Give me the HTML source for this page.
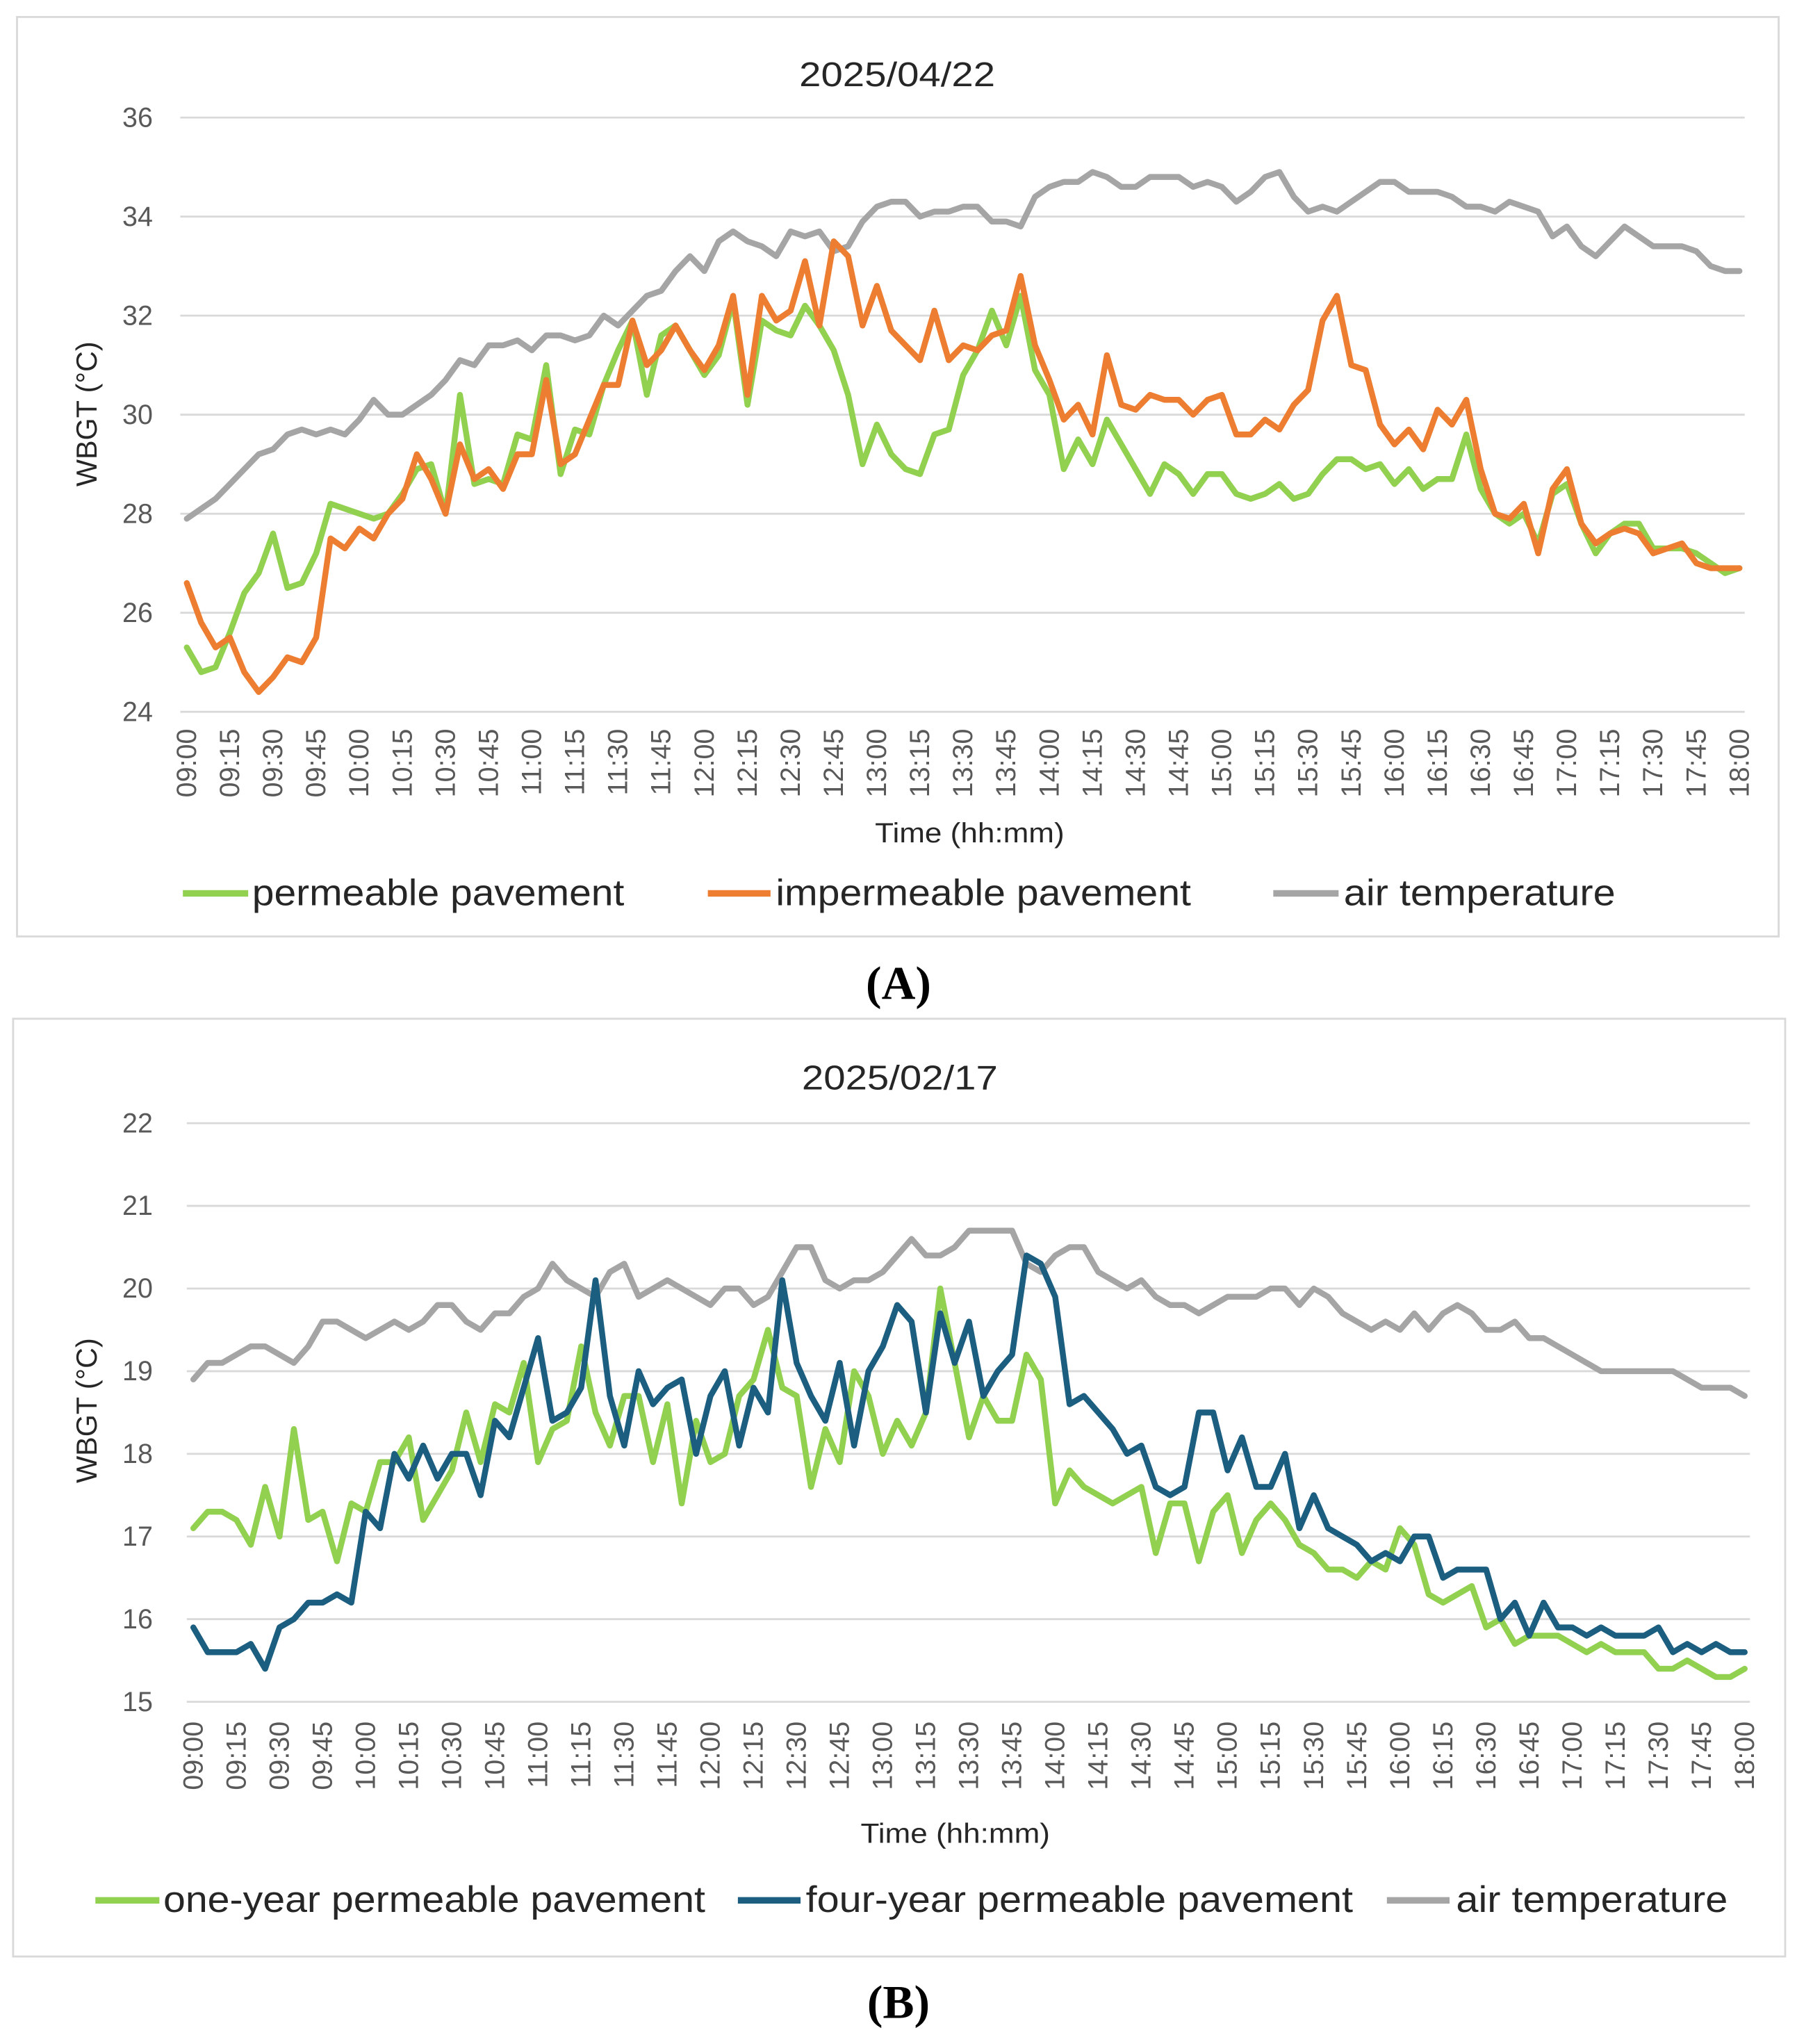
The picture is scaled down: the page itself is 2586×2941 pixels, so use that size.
<!DOCTYPE html>
<html><head><meta charset="utf-8"><style>
html,body{margin:0;padding:0;background:#fff;}
svg{display:block;font-family:"Liberation Sans","DejaVu Sans",sans-serif;}
</style></head><body>
<svg id="fig" width="2586" height="2941" viewBox="0 0 1376 1565" xmlns="http://www.w3.org/2000/svg">
<rect x="0" y="0" width="1376" height="1565" fill="#fff"/>
<g id="chartA">
<rect x="13" y="13" width="1349" height="704" fill="#fff" stroke="#d9d9d9" stroke-width="1.5"/>
<text x="612" y="66" font-size="26" textLength="150" lengthAdjust="spacingAndGlyphs" fill="#262626">2025/04/22</text>
<text transform="translate(74,317) rotate(-90)" font-size="22" text-anchor="middle" fill="#262626">WBGT (°C)</text>
<text x="670" y="645" font-size="21" textLength="145" lengthAdjust="spacingAndGlyphs" fill="#262626">Time (hh:mm)</text>
<g>
<g><line x1="140" y1="684" x2="190" y2="684" stroke="#92d050" stroke-width="5"/><text x="193" y="693" font-size="28" textLength="285" lengthAdjust="spacingAndGlyphs" fill="#262626">permeable pavement</text></g>
<g><line x1="542" y1="684" x2="590" y2="684" stroke="#ed7d31" stroke-width="5"/><text x="594" y="693" font-size="28" textLength="318" lengthAdjust="spacingAndGlyphs" fill="#262626">impermeable pavement</text></g>
<g><line x1="975" y1="684" x2="1025" y2="684" stroke="#a5a5a5" stroke-width="5"/><text x="1029" y="693" font-size="28" textLength="208" lengthAdjust="spacingAndGlyphs" fill="#262626">air temperature</text></g>
</g>
</g>
<text x="688" y="765" font-size="36" font-weight="bold" text-anchor="middle" font-family="Liberation Serif, serif">(A)</text>
<g id="chartB">
<rect x="10" y="780" width="1357" height="718" fill="#fff" stroke="#d9d9d9" stroke-width="1.5"/>
<text x="614" y="834" font-size="26" textLength="150" lengthAdjust="spacingAndGlyphs" fill="#262626">2025/02/17</text>
<text transform="translate(74,1080) rotate(-90)" font-size="22" text-anchor="middle" fill="#262626">WBGT (°C)</text>
<text x="659" y="1411" font-size="21" textLength="145" lengthAdjust="spacingAndGlyphs" fill="#262626">Time (hh:mm)</text>
<g>
<g><line x1="73" y1="1455" x2="122" y2="1455" stroke="#92d050" stroke-width="5"/><text x="125" y="1464" font-size="28" textLength="415" lengthAdjust="spacingAndGlyphs" fill="#262626">one-year permeable pavement</text></g>
<g><line x1="565" y1="1455" x2="613" y2="1455" stroke="#1b5e80" stroke-width="5"/><text x="617" y="1464" font-size="28" textLength="419" lengthAdjust="spacingAndGlyphs" fill="#262626">four-year permeable pavement</text></g>
<g><line x1="1062" y1="1455" x2="1110" y2="1455" stroke="#a5a5a5" stroke-width="5"/><text x="1115" y="1464" font-size="28" textLength="208" lengthAdjust="spacingAndGlyphs" fill="#262626">air temperature</text></g>
</g>
</g>
<text x="688" y="1545" font-size="36" font-weight="bold" text-anchor="middle" font-family="Liberation Serif, serif">(B)</text>
</svg>
<script>
const aPermeable=[25.3,24.8,24.9,25.6,26.4,26.8,27.6,26.5,26.6,27.2,28.2,28.1,28.0,27.9,28.0,28.4,28.9,29.0,28.0,30.4,28.6,28.7,28.6,29.6,29.5,31.0,28.8,29.7,29.6,30.6,31.3,31.9,30.4,31.6,31.8,31.3,30.8,31.2,32.3,30.2,31.9,31.7,31.6,32.2,31.8,31.3,30.4,29.0,29.8,29.2,28.9,28.8,29.6,29.7,30.8,31.3,32.1,31.4,32.4,30.9,30.4,28.9,29.5,29.0,29.9,29.4,28.9,28.4,29.0,28.8,28.4,28.8,28.8,28.4,28.3,28.4,28.6,28.3,28.4,28.8,29.1,29.1,28.9,29.0,28.6,28.9,28.5,28.7,28.7,29.6,28.5,28.0,27.8,28.0,27.4,28.4,28.6,27.8,27.2,27.6,27.8,27.8,27.3,27.3,27.3,27.2,27.0,26.8,26.9];
const aImpermeable=[26.6,25.8,25.3,25.5,24.8,24.4,24.7,25.1,25.0,25.5,27.5,27.3,27.7,27.5,28.0,28.3,29.2,28.7,28.0,29.4,28.7,28.9,28.5,29.2,29.2,30.7,29.0,29.2,29.9,30.6,30.6,31.9,31.0,31.3,31.8,31.3,30.9,31.4,32.4,30.4,32.4,31.9,32.1,33.1,31.8,33.5,33.2,31.8,32.6,31.7,31.4,31.1,32.1,31.1,31.4,31.3,31.6,31.7,32.8,31.4,30.7,29.9,30.2,29.6,31.2,30.2,30.1,30.4,30.3,30.3,30.0,30.3,30.4,29.6,29.6,29.9,29.7,30.2,30.5,31.9,32.4,31.0,30.9,29.8,29.4,29.7,29.3,30.1,29.8,30.3,28.9,28.0,27.9,28.2,27.2,28.5,28.9,27.8,27.4,27.6,27.7,27.6,27.2,27.3,27.4,27.0,26.9,26.9,26.9];
const aAir=[27.9,28.1,28.3,28.6,28.9,29.2,29.3,29.6,29.7,29.6,29.7,29.6,29.9,30.3,30.0,30.0,30.2,30.4,30.7,31.1,31.0,31.4,31.4,31.5,31.3,31.6,31.6,31.5,31.6,32.0,31.8,32.1,32.4,32.5,32.9,33.2,32.9,33.5,33.7,33.5,33.4,33.2,33.7,33.6,33.7,33.3,33.4,33.9,34.2,34.3,34.3,34.0,34.1,34.1,34.2,34.2,33.9,33.9,33.8,34.4,34.6,34.7,34.7,34.9,34.8,34.6,34.6,34.8,34.8,34.8,34.6,34.7,34.6,34.3,34.5,34.8,34.9,34.4,34.1,34.2,34.1,34.3,34.5,34.7,34.7,34.5,34.5,34.5,34.4,34.2,34.2,34.1,34.3,34.2,34.1,33.6,33.8,33.4,33.2,33.5,33.8,33.6,33.4,33.4,33.4,33.3,33.0,32.9,32.9];
const aTicks=[24,26,28,30,32,34,36];
const bOneYear=[17.1,17.3,17.3,17.2,16.9,17.6,17.0,18.3,17.2,17.3,16.7,17.4,17.3,17.9,17.9,18.2,17.2,17.5,17.8,18.5,17.9,18.6,18.5,19.1,17.9,18.3,18.4,19.3,18.5,18.1,18.7,18.7,17.9,18.6,17.4,18.4,17.9,18.0,18.7,18.9,19.5,18.8,18.7,17.6,18.3,17.9,19.0,18.7,18.0,18.4,18.1,18.5,20.0,19.1,18.2,18.7,18.4,18.4,19.2,18.9,17.4,17.8,17.6,17.5,17.4,17.5,17.6,16.8,17.4,17.4,16.7,17.3,17.5,16.8,17.2,17.4,17.2,16.9,16.8,16.6,16.6,16.5,16.7,16.6,17.1,16.9,16.3,16.2,16.3,16.4,15.9,16.0,15.7,15.8,15.8,15.8,15.7,15.6,15.7,15.6,15.6,15.6,15.4,15.4,15.5,15.4,15.3,15.3,15.4];
const bFourYear=[15.9,15.6,15.6,15.6,15.7,15.4,15.9,16.0,16.2,16.2,16.3,16.2,17.3,17.1,18.0,17.7,18.1,17.7,18.0,18.0,17.5,18.4,18.2,18.8,19.4,18.4,18.5,18.8,20.1,18.7,18.1,19.0,18.6,18.8,18.9,18.0,18.7,19.0,18.1,18.8,18.5,20.1,19.1,18.7,18.4,19.1,18.1,19.0,19.3,19.8,19.6,18.5,19.7,19.1,19.6,18.7,19.0,19.2,20.4,20.3,19.9,18.6,18.7,18.5,18.3,18.0,18.1,17.6,17.5,17.6,18.5,18.5,17.8,18.2,17.6,17.6,18.0,17.1,17.5,17.1,17.0,16.9,16.7,16.8,16.7,17.0,17.0,16.5,16.6,16.6,16.6,16.0,16.2,15.8,16.2,15.9,15.9,15.8,15.9,15.8,15.8,15.8,15.9,15.6,15.7,15.6,15.7,15.6,15.6];
const bAir=[18.9,19.1,19.1,19.2,19.3,19.3,19.2,19.1,19.3,19.6,19.6,19.5,19.4,19.5,19.6,19.5,19.6,19.8,19.8,19.6,19.5,19.7,19.7,19.9,20.0,20.3,20.1,20.0,19.9,20.2,20.3,19.9,20.0,20.1,20.0,19.9,19.8,20.0,20.0,19.8,19.9,20.2,20.5,20.5,20.1,20.0,20.1,20.1,20.2,20.4,20.6,20.4,20.4,20.5,20.7,20.7,20.7,20.7,20.3,20.2,20.4,20.5,20.5,20.2,20.1,20.0,20.1,19.9,19.8,19.8,19.7,19.8,19.9,19.9,19.9,20.0,20.0,19.8,20.0,19.9,19.7,19.6,19.5,19.6,19.5,19.7,19.5,19.7,19.8,19.7,19.5,19.5,19.6,19.4,19.4,19.3,19.2,19.1,19.0,19.0,19.0,19.0,19.0,19.0,18.9,18.8,18.8,18.8,18.7];
const bTicks=[15,16,17,18,19,20,21,22];
const startMinutes=540, stepMinutes=5, labelEvery=3;

const NS='http://www.w3.org/2000/svg';
function mk(tag,attrs,parent){const e=document.createElementNS(NS,tag);for(const k in attrs)e.setAttribute(k,attrs[k]);parent.appendChild(e);return e;}
function fmt(m){const h=Math.floor(m/60),mm=m%60;return String(h).padStart(2,'0')+':'+String(mm).padStart(2,'0');}

function drawChart(g,cfg){
  const n=cfg.series[0].values.length;
  const xs=i=>cfg.x0+(cfg.x1-cfg.x0)*i/(n-1);
  const ys=v=>cfg.yBottom-(v-cfg.ticks[0])/(cfg.ticks[cfg.ticks.length-1]-cfg.ticks[0])*(cfg.yBottom-cfg.yTop);
  cfg.ticks.forEach(t=>{
    const ln=mk('line',{x1:cfg.gx0,x2:cfg.gx1,y1:ys(t),y2:ys(t),stroke:'#d9d9d9','stroke-width':1.5},g);
    
    
    const tx=mk('text',{x:117,y:ys(t)+7,'font-size':21,'text-anchor':'end',fill:'#595959'},g);
    tx.textContent=String(t);
    
    
  });
  for(let i=0;i<n;i+=labelEvery){
    const tx=mk('text',{transform:'translate('+(xs(i)+7)+','+cfg.labelTop+') rotate(-90)','font-size':21,'text-anchor':'end',fill:'#595959'},g);
    tx.textContent=fmt(startMinutes+i*stepMinutes);
    
    
  }
  cfg.series.forEach(s=>{
    const pts=s.values.map((v,i)=>xs(i).toFixed(2)+','+ys(v).toFixed(2)).join(' ');
    const pl=mk('polyline',{points:pts,fill:'none',stroke:s.color,'stroke-width':4.5,'stroke-linejoin':'round','stroke-linecap':'round'},g);
    
    
  });
}
drawChart(document.getElementById('chartA'),{x0:143,x1:1332,gx0:138,gx1:1336,yTop:90,yBottom:545,labelTop:558,ticks:aTicks,
  series:[{values:aAir,color:'#a5a5a5',name:'air-temperature-line-a'},{values:aPermeable,color:'#92d050',name:'permeable-pavement-line'},{values:aImpermeable,color:'#ed7d31',name:'impermeable-pavement-line'}]});
drawChart(document.getElementById('chartB'),{x0:148,x1:1336,gx0:143,gx1:1340,yTop:860,yBottom:1303,labelTop:1318,ticks:bTicks,
  series:[{values:bAir,color:'#a5a5a5',name:'air-temperature-line-b'},{values:bOneYear,color:'#92d050',name:'one-year-pavement-line'},{values:bFourYear,color:'#1b5e80',name:'four-year-pavement-line'}]});
</script>
</body></html>
